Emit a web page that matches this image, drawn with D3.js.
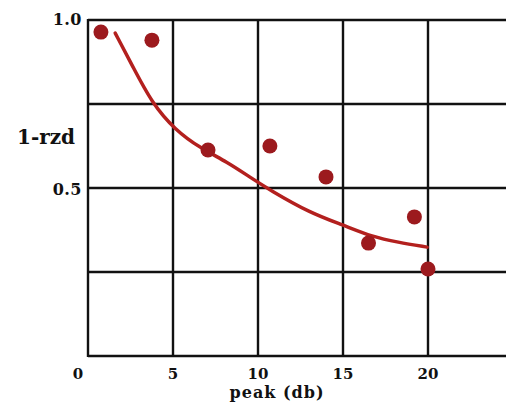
<!DOCTYPE html>
<html>
<head>
<meta charset="utf-8">
<script src="https://cdn.jsdelivr.net/npm/d3@7"></script>
<style>
  html, body { margin: 0; padding: 0; background: #fff; }
  svg { display: block; overflow: hidden; }
  text { font-family: "DejaVu Serif", serif; font-weight: bold; fill: #111; }
</style>
</head>
<body>
<div id="chart"></div>
<script>
// measured points (peak in db, 1-rzd)
const pointX = [0.76, 3.76, 7.06, 10.7, 14.0, 16.5, 19.2, 20.0];
const pointY = [0.964, 0.94, 0.613, 0.625, 0.533, 0.336, 0.414, 0.259];

// hand-drawn fitted curve
const curveX = [1.6, 2.65, 3.76, 5.12, 6.6, 8.2, 9.5, 10.7, 13.06, 15.0, 16.76, 18.2, 19.95];
const curveY = [0.961, 0.86, 0.753, 0.673, 0.619, 0.577, 0.533, 0.494, 0.426, 0.39, 0.354, 0.339, 0.324];

const xTicks = [0, 5, 10, 15, 20];
const xGrid = [5, 10, 15, 20];
const yGrid = [0.25, 0.5, 0.75];
const yLabels = [1.0, 0.5];

const largura = 506, altura = 403;
const x = d3.scaleLinear().domain([0, 25]).range([88, 513]);
const y = d3.scaleLinear().domain([0, 1]).range([356, 20]);

const svg = d3.select("#chart").append("svg")
    .attr("width", largura)
    .attr("height", altura);

// grade
const grade = svg.append("g")
    .attr("stroke", "#111")
    .attr("stroke-width", 2.4);

grade.selectAll("line.v")
  .data(xGrid)
  .join("line")
    .attr("class", "v")
    .attr("x1", d => x(d)).attr("x2", d => x(d))
    .attr("y1", y(1)).attr("y2", y(0));

grade.selectAll("line.h")
  .data(yGrid.concat([0, 1]))
  .join("line")
    .attr("class", "h")
    .attr("x1", x(0)).attr("x2", x(25))
    .attr("y1", d => y(d)).attr("y2", d => y(d));

grade.append("line")
    .attr("x1", x(0)).attr("x2", x(0))
    .attr("y1", y(1) - 1).attr("y2", y(0) + 1);

// rótulos do eixo x
svg.append("g")
  .selectAll("text")
  .data(xTicks)
  .join("text")
    .attr("x", d => d === 0 ? x(d) - 10 : x(d))
    .attr("y", 379)
    .attr("text-anchor", "middle")
    .attr("font-size", 15)
    .text(d => d);

svg.append("text")
    .attr("x", 277)
    .attr("y", 398)
    .attr("text-anchor", "middle")
    .attr("font-size", 16)
    .attr("letter-spacing", 1)
    .text("peak (db)");

// rótulos do eixo y
svg.append("g")
  .selectAll("text")
  .data(yLabels)
  .join("text")
    .attr("x", 82)
    .attr("y", d => y(d) + (d === 1 ? 5 : 7))
    .attr("text-anchor", "end")
    .attr("font-size", 16)
    .attr("letter-spacing", 0.5)
    .text(d => d.toFixed(1));

svg.append("text")
    .attr("x", 17)
    .attr("y", 144)
    .attr("font-size", 20)
    .text("1-rzd");

// curva
const linha = d3.line()
    .x(i => x(curveX[i]))
    .y(i => y(curveY[i]))
    .curve(d3.curveBasis);

svg.append("path")
    .attr("d", linha(d3.range(curveX.length)))
    .attr("fill", "none")
    .attr("stroke", "#b3201e")
    .attr("stroke-width", 3.5)
    .attr("stroke-linecap", "round");

// pontos
svg.append("g")
    .attr("fill", "#9c1a1e")
  .selectAll("circle")
  .data(d3.range(pointX.length))
  .join("circle")
    .attr("cx", i => x(pointX[i]))
    .attr("cy", i => y(pointY[i]))
    .attr("r", 7.5);
</script>
</body>
</html>
